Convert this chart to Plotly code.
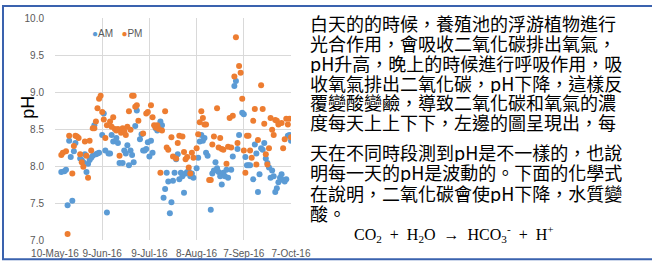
import pandas as pd
import plotly.graph_objects as go

# ---- data (day offsets from 10-May-2016) ----
am_day = [4, 6, 7, 8, 9, 10, 11, 12, 13, 16, 17, 18, 19, 20, 21, 22, 23, 24, 25, 26,
          27, 28, 30, 31, 32, 33, 34, 35, 36, 37, 39, 40, 41, 43, 44, 45, 46, 47, 48, 49,
          50, 51, 52, 54, 55, 56, 57, 58, 59, 60, 61, 62, 64, 65, 66, 67, 68, 69, 70, 71,
          72, 73, 74, 75, 76, 77, 78, 79, 80, 81, 82, 83, 84, 85, 86, 87, 88, 90, 91, 92,
          93, 94, 95, 96, 97, 99, 100, 101, 102, 103, 104, 105, 106, 107, 108, 109, 110, 112, 113, 114,
          115, 116, 117, 119, 120, 121, 122, 123, 124, 126, 127, 128, 129, 130, 131, 132, 133, 134, 135, 136,
          137, 138, 139, 140, 141, 142, 143, 144, 145, 146, 147, 148, 149, 150]
am_ph = [7.92, 7.93, 7.95, 7.47, 8.34, 8.12, 7.53, 8.20, 8.31, 8.10, 8.08, 8.05, 8.16, 7.92, 8.03, 8.08, 8.11, 8.14, 8.55, 8.16,
         8.17, 8.18, 8.42, 8.71, 8.21, 7.37, 8.17, 8.17, 8.42, 8.33, 8.38, 8.31, 8.04, 8.04, 8.21, 8.17, 8.28, 8.01, 8.21, 8.15,
         8.05, 8.54, 8.75, 8.36, 8.43, 8.21, 8.21, 8.23, 8.32, 8.13, 8.34, 8.18, 8.51, 8.48, 8.51, 8.60, 8.55, 7.57, 7.69, 7.91,
         7.79, 7.36, 7.51, 7.80, 7.91, 8.09, 8.16, 7.82, 7.91, 7.86, 7.64, 7.90, 7.92, 7.93, 7.86, 7.90, 7.84, 7.97, 8.11, 8.33,
         8.42, 8.34, 8.38, 8.18, 8.14, 7.41, 7.90, 7.94, 8.05, 7.97, 7.92, 7.86, 7.75, 7.91, 7.86, 7.95, 7.84, 7.95, 8.13, 9.08,
         9.15, 8.23, 8.42, 8.72, 8.70, 8.12, 8.01, 8.01, 8.01, 7.82, 8.29, 8.17, 7.65, 7.89, 8.24, 8.22, 8.31, 8.10, 8.04, 7.98,
         7.84, 7.94, 7.86, 7.65, 7.70, 7.78, 7.84, 7.89, 7.81, 7.79, 7.82, 8.41, 8.42, 8.34]

pm_day = [4, 5, 7, 8, 9, 11, 12, 13, 14, 15, 16, 17, 18, 19, 20, 21, 22, 23, 24, 25,
          26, 27, 28, 29, 30, 31, 32, 33, 35, 36, 37, 38, 39, 40, 41, 42, 43, 44, 45, 46,
          47, 48, 49, 50, 51, 52, 53, 56, 58, 59, 61, 62, 63, 64, 65, 66, 67, 68, 70, 71,
          72, 74, 75, 77, 78, 79, 81, 82, 83, 84, 85, 86, 87, 88, 90, 91, 92, 93, 94, 95,
          96, 98, 99, 100, 101, 103, 104, 105, 106, 107, 109, 110, 111, 112, 113, 114, 115, 116, 117, 118,
          119, 120, 121, 122, 123, 124, 125, 126, 127, 128, 129, 131, 132, 133, 134, 135, 136, 137, 138, 139,
          140, 141, 142, 144, 145, 146, 147, 148, 149, 150]
pm_ph = [8.15, 8.18, 8.20, 7.08, 8.41, 7.90, 8.27, 8.41, 8.40, 8.38, 8.16, 8.05, 7.99, 8.33, 8.14, 7.84, 8.34, 8.21, 8.51, 8.51,
         8.60, 8.78, 8.91, 8.95, 8.73, 8.63, 8.38, 8.55, 8.60, 8.53, 8.66, 8.50, 8.48, 8.50, 8.14, 8.45, 8.51, 8.47, 8.42, 8.53,
         8.74, 8.49, 8.95, 8.95, 8.80, 8.82, 8.61, 8.44, 8.71, 8.73, 8.82, 8.66, 8.55, 8.52, 8.55, 8.50, 7.91, 8.48, 8.74, 8.25,
         8.22, 8.39, 8.13, 8.10, 8.31, 8.41, 8.40, 8.19, 8.09, 8.12, 7.98, 7.90, 8.18, 8.11, 8.24, 8.43, 8.59, 8.74, 8.65, 8.56,
         8.56, 7.81, 7.81, 8.29, 8.40, 8.78, 8.25, 8.38, 8.23, 8.22, 8.03, 8.26, 8.65, 8.25, 8.68, 9.21, 9.74, 8.31, 9.35, 9.26,
         8.91, 8.21, 7.91, 8.41, 8.41, 8.21, 8.11, 8.61, 8.77, 8.02, 8.35, 9.09, 8.77, 8.57, 8.16, 8.02, 8.24, 8.65, 8.49, 8.42,
         8.62, 8.61, 8.56, 8.58, 8.24, 8.36, 8.64, 8.56, 8.64, 8.39]

tick_dates = ["2016-05-10", "2016-06-09", "2016-07-09", "2016-08-08", "2016-09-07", "2016-10-07"]
tick_labels = ["10-May-16", "9-Jun-16", "9-Jul-16", "8-Aug-16", "7-Sep-16", "7-Oct-16"]
y_ticks = [7.0, 7.5, 8.0, 8.5, 9.0, 9.5, 10.0]

text_lines = [
    "白天的的時候，養殖池的浮游植物進行",
    "光合作用，會吸收二氧化碳排出氧氣，",
    "pH升高，晚上的時候進行呼吸作用，吸",
    "收氧氣排出二氧化碳，pH下降，這樣反",
    "覆變酸變鹼，導致二氧化碳和氧氣的濃",
    "度每天上上下下，左邊的圖呈現出，每",
    "天在不同時段測到pH是不一樣的，也說",
    "明每一天的pH是波動的。下面的化學式",
    "在說明，二氧化碳會使pH下降，水質變",
    "酸。",
]
text_line_y = [21.5, 42, 62.5, 83, 103.5, 124, 155, 176, 197, 218]

base = pd.Timestamp("2016-05-10")
am_dates = base + pd.to_timedelta(am_day, unit="D")
pm_dates = base + pd.to_timedelta(pm_day, unit="D")

W, H = 652, 271
L, R, T, B = 55, 361, 16, 25
PW, PH = W - L - R, H - T - B


def px(x):
    return (x - L) / PW


def py(y):
    return (H - B - y) / PH


BLUE = "#5B9BD5"
ORANGE = "#ED7D31"
GRAY = "#595959"

fig = go.Figure()
fig.add_trace(go.Scatter(x=am_dates, y=am_ph, mode="markers", name="AM",
                         marker=dict(color=BLUE, size=6, line=dict(width=0))))
fig.add_trace(go.Scatter(x=pm_dates, y=pm_ph, mode="markers", name="PM",
                         marker=dict(color=ORANGE, size=6, line=dict(width=0))))

annotations = []
# legend
annotations.append(dict(x=px(90), y=py(32), xref="paper", yref="paper", xanchor="left", yanchor="middle",
                        showarrow=False,
                        text=f'<span style="color:{BLUE}">●</span>AM   <span style="color:{ORANGE}">●</span>PM',
                        font=dict(family="Liberation Sans", size=10, color=GRAY)))
# y title (rotated text, placed by its left edge)
annotations.append(dict(x=px(16), y=py(109), xref="paper", yref="paper", xanchor="left", yanchor="middle",
                        showarrow=False, text="pH", textangle=-90,
                        font=dict(family="Liberation Sans", size=18, color="#000000")))
# right text
for line, yy in zip(text_lines, text_line_y):
    annotations.append(dict(x=px(308), y=py(yy), xref="paper", yref="paper", xanchor="left", yanchor="middle",
                            showarrow=False, text=line, height=20,
                            font=dict(family="Noto Sans CJK TC", size=18, color="#000000")))
annotations.append(dict(x=px(352), y=py(240), xref="paper", yref="paper", xanchor="left", yanchor="middle",
                        showarrow=False,
                        text="CO<sub>2</sub>&nbsp; + &nbsp;H<sub>2</sub>O&nbsp; → &nbsp;HCO<sub>3</sub><sup>-</sup>&nbsp; + &nbsp;H<sup>+</sup>",
                        font=dict(family="Liberation Serif", size=16, color="#000000")))

shapes = [dict(type="rect", xref="paper", yref="paper",
               x0=px(3), x1=px(700), y0=py(266), y1=py(3.5),
               line=dict(color="#3A62AE", width=2), fillcolor="rgba(0,0,0,0)", layer="above")]

fig.update_layout(
    width=W, height=H,
    margin=dict(l=L, r=R, t=T, b=B, pad=0),
    paper_bgcolor="white", plot_bgcolor="white",
    showlegend=False,
    annotations=annotations,
    shapes=shapes,
    xaxis=dict(type="date", range=[tick_dates[0], tick_dates[-1]],
               tickvals=tick_dates, ticktext=tick_labels,
               showgrid=True, gridcolor="#D9D9D9", gridwidth=1,
               zeroline=False, showline=False, ticks="",
               tickfont=dict(family="Liberation Sans", size=10, color=GRAY),
               ticklabelstandoff=6),
    yaxis=dict(range=[7, 10], tickvals=y_ticks, tickformat=".1f",
               showgrid=True, gridcolor="#D9D9D9", gridwidth=1,
               zeroline=False, showline=False, ticks="",
               tickfont=dict(family="Liberation Sans", size=10, color=GRAY),
               ticklabelstandoff=10),
)

fig.write_html("out.html", config={"displayModeBar": False},
               post_script="document.body.style.margin='0px';")
